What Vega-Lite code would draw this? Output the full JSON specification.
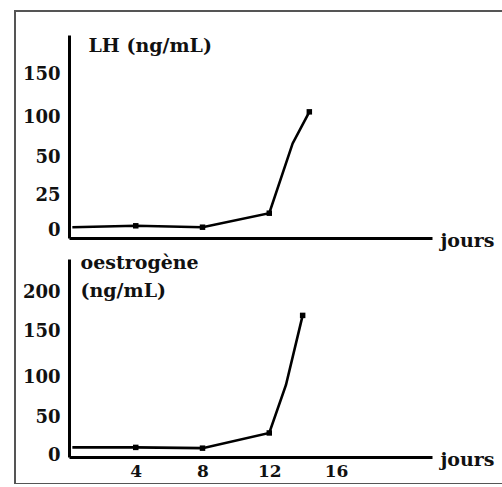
{
  "$schema": "https://vega.github.io/schema/vega-lite/v6.json",
  "autosize": "none",
  "width": 495,
  "height": 473,
  "padding": {"left": 15, "top": 11, "right": 0, "bottom": 0},
  "background": "white",
  "config": {
    "view": {"stroke": "#555555", "strokeWidth": 2},
    "font": "DejaVu Serif",
    "axis": {
      "grid": false,
      "ticks": false,
      "domainColor": "black",
      "domainWidth": 3,
      "labelFont": "DejaVu Serif",
      "labelColor": "#111111",
      "labelFontWeight": "bold",
      "titleFont": "DejaVu Serif",
      "titleColor": "#111111",
      "titleFontWeight": "bold",
      "titleAngle": 0
    }
  },
  "datasets": {
    "lh": [
      {"jour": 0.2, "valeur": 2, "mesure": false},
      {"jour": 4, "valeur": 3, "mesure": true},
      {"jour": 8, "valeur": 2, "mesure": true},
      {"jour": 12, "valeur": 12, "mesure": true},
      {"jour": 13.4, "valeur": 67, "mesure": false},
      {"jour": 14.4, "valeur": 106, "mesure": true}
    ],
    "oestrogene": [
      {"jour": 0.2, "valeur": 10, "mesure": false},
      {"jour": 4, "valeur": 10, "mesure": true},
      {"jour": 8, "valeur": 9, "mesure": true},
      {"jour": 12, "valeur": 29, "mesure": true},
      {"jour": 13, "valeur": 90, "mesure": false},
      {"jour": 14, "valeur": 170, "mesure": true}
    ]
  },
  "layer": [
    {
      "data": {"name": "lh"},
      "encoding": {
        "x": {
          "field": "jour",
          "type": "quantitative",
          "scale": {"domain": [0, 21.75], "range": [54, 417], "nice": false, "zero": false},
          "axis": {
            "orient": "bottom",
            "offset": -246,
            "labels": false,
            "title": "jours",
            "titleFontSize": 19,
            "titleX": 425,
            "titleY": 2,
            "titleAlign": "left",
            "titleBaseline": "middle"
          }
        },
        "y": {
          "field": "valeur",
          "type": "quantitative",
          "scale": {
            "domain": [-6, 0, 25, 50, 100, 150, 195],
            "range": [227, 219, 184, 146, 106, 63, 24],
            "nice": false,
            "zero": false
          },
          "axis": {
            "orient": "left",
            "offset": -54,
            "values": [0, 25, 50, 100, 150],
            "labelFontSize": 18,
            "labelPadding": 9,
            "title": "LH (ng/mL)",
            "titleFontSize": 19,
            "titleX": 19,
            "titleY": 34,
            "titleAlign": "left",
            "titleBaseline": "middle"
          }
        }
      },
      "layer": [
        {"mark": {"type": "line", "color": "black", "strokeWidth": 2.6}},
        {
          "transform": [{"filter": "datum.mesure"}],
          "mark": {"type": "point", "shape": "square", "filled": true, "color": "black", "size": 30, "opacity": 1}
        }
      ]
    },
    {
      "data": {"name": "oestrogene"},
      "encoding": {
        "x": {
          "field": "jour",
          "type": "quantitative",
          "scale": {"domain": [0, 21.75], "range": [54, 417], "nice": false, "zero": false},
          "axis": {
            "orient": "bottom",
            "offset": -27,
            "values": [4, 8, 12, 16],
            "labelFontSize": 17,
            "labelPadding": 6,
            "title": "jours",
            "titleFontSize": 19,
            "titleX": 425,
            "titleY": 2,
            "titleAlign": "left",
            "titleBaseline": "middle"
          }
        },
        "y": {
          "field": "valeur",
          "type": "quantitative",
          "scale": {
            "domain": [-3, 0, 50, 100, 150, 200, 242],
            "range": [446, 444, 406, 366, 320, 281, 248],
            "nice": false,
            "zero": false
          },
          "axis": {
            "orient": "left",
            "offset": -54,
            "values": [0, 50, 100, 150, 200],
            "labelFontSize": 18,
            "labelPadding": 9,
            "title": ["oestrogène", "(ng/mL)"],
            "titleFontSize": 19,
            "titleLineHeight": 28,
            "titleX": 11,
            "titleY": 242,
            "titleAlign": "left",
            "titleBaseline": "top"
          }
        }
      },
      "layer": [
        {"mark": {"type": "line", "color": "black", "strokeWidth": 2.6}},
        {
          "transform": [{"filter": "datum.mesure"}],
          "mark": {"type": "point", "shape": "square", "filled": true, "color": "black", "size": 30, "opacity": 1}
        }
      ]
    }
  ],
  "resolve": {
    "scale": {"x": "independent", "y": "independent"},
    "axis": {"x": "independent", "y": "independent"}
  }
}
